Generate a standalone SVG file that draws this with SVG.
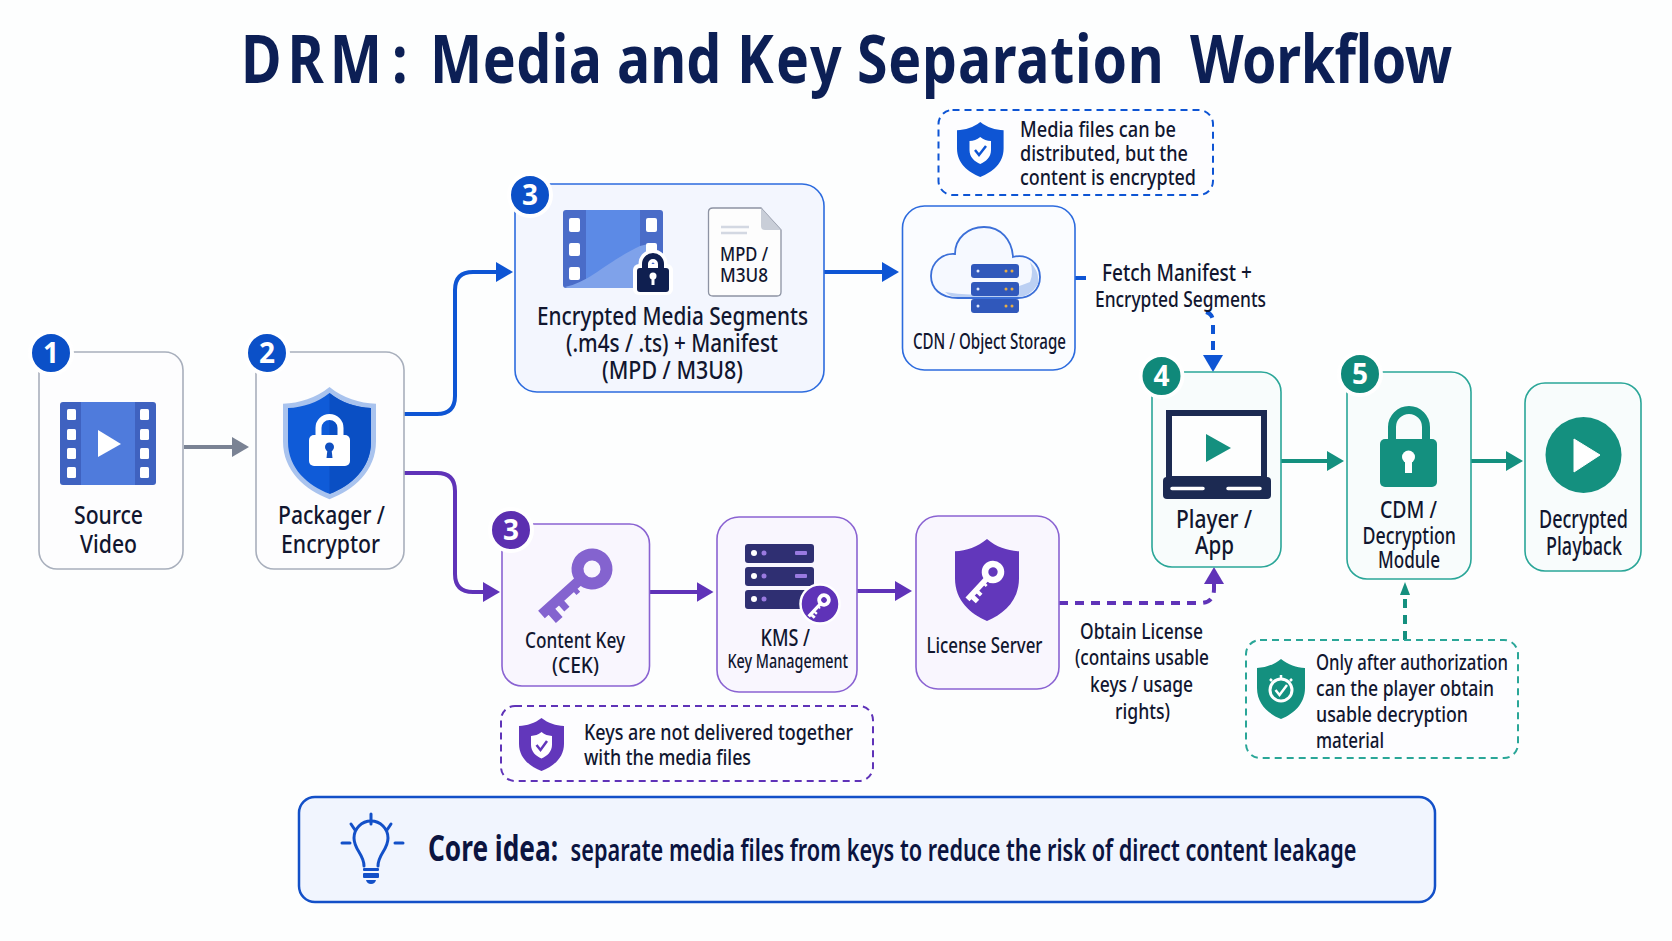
<svg xmlns="http://www.w3.org/2000/svg" xmlns:xlink="http://www.w3.org/1999/xlink" width="1672" height="941" viewBox="0 0 1672 941">
<style>
text{font-family:"Noto Sans","Liberation Sans",sans-serif;fill:#11162f;font-weight:500;font-size:25px}
.title{font-size:66px;font-weight:700;fill:#0c1f55}
.c{text-anchor:middle}
.b{font-size:28px;font-weight:700;fill:#fff;text-anchor:middle}
.s20{font-size:20px}.s21{font-size:21px}.s22{font-size:22px}.s23{font-size:23px}.s24{font-size:24px}
.core{font-size:36px;font-weight:700;fill:#0b1440}
.core2{font-size:30px;font-weight:600;fill:#0b1440}
.box{stroke-width:1.6}
.gray{fill:#fdfdfe;stroke:#a8afbc}
.blue{fill:#f3f6fe;stroke:#2c6bde}
.blue2{fill:#fafcff;stroke:#2c6bde}
.purple{fill:#f9f6fe;stroke:#8a63d2}
.teal{fill:#f8fcfc;stroke:#2aa698}
.note{fill:#fdfdff;stroke-width:2;stroke-dasharray:7 5}
.ring{stroke:#fff;stroke-width:4}
.line{fill:none;stroke-width:4}
.dash{stroke-dasharray:9 7}
</style>
<defs>
<marker id="hGray" markerUnits="userSpaceOnUse" viewBox="0 0 17 20" refX="2" refY="10" markerWidth="17" markerHeight="20" orient="auto"><path d="M0 0L17 10L0 20Z" fill="#7a8394"/></marker>
<marker id="hBlue" markerUnits="userSpaceOnUse" viewBox="0 0 17 20" refX="2" refY="10" markerWidth="17" markerHeight="20" orient="auto"><path d="M0 0L17 10L0 20Z" fill="#0e55d4"/></marker>
<marker id="hPurple" markerUnits="userSpaceOnUse" viewBox="0 0 17 20" refX="2" refY="10" markerWidth="17" markerHeight="20" orient="auto"><path d="M0 0L17 10L0 20Z" fill="#5f33b8"/></marker>
<marker id="hTeal" markerUnits="userSpaceOnUse" viewBox="0 0 17 20" refX="2" refY="10" markerWidth="17" markerHeight="20" orient="auto"><path d="M0 0L17 10L0 20Z" fill="#14907f"/></marker>
<marker id="hTealS" markerUnits="userSpaceOnUse" viewBox="0 0 13 10" refX="1" refY="5" markerWidth="13" markerHeight="10" orient="auto"><path d="M0 0L13 5L0 10Z" fill="#14907f"/></marker>
<path id="shield" d="M50 0C65 12 82 17 100 18V58C100 90 76 110 50 120C24 110 0 90 0 58V18C18 17 35 12 50 0Z"/>
<g id="key"><path fill-rule="evenodd" d="M0-20.500a20.500 20.500 0 1 1 0 41a20.500 20.500 0 1 1 0-41zM0-8.500a8.500 8.500 0 1 0 0 17a8.500 8.500 0 1 0 0-17z"/><path d="M-5 16h10v52h-10zM5 24h4v5h-4zM5 42h8v7h-8zM5 54h11v9h-11z"/></g>
</defs>
<rect width="1672" height="941" fill="#fdfefe"/>
<text class="title" transform="scale(.84 1)" y="83"><tspan x="286.900" letter-spacing="7">DRM</tspan><tspan x="466.700">:</tspan> <tspan x="511.900" letter-spacing=".5">Media</tspan> <tspan x="734.500">and</tspan> <tspan x="877.400" letter-spacing="2.500">Key</tspan> <tspan x="1020.200" letter-spacing=".9">Separation</tspan> <tspan x="1416.700" letter-spacing="-.5">Workflow</tspan></text>

<g id="connectors">
<path class="line" stroke="#7a8394" marker-end="url(#hGray)" d="M184 447H234"/>
<path class="line" stroke="#0e55d4" marker-end="url(#hBlue)" d="M404 414H437Q455 414 455 396V290Q455 272 473 272H498"/>
<path class="line" stroke="#5f33b8" marker-end="url(#hPurple)" d="M404 473H437Q455 473 455 491V574Q455 592 473 592H485"/>
<path class="line" stroke="#0e55d4" marker-end="url(#hBlue)" d="M824 272H884"/>
<path class="line" stroke="#5f33b8" marker-end="url(#hPurple)" d="M650 592H698.500"/>
<path class="line" stroke="#5f33b8" marker-end="url(#hPurple)" d="M857 591H897"/>
<path class="line" stroke="#14907f" marker-end="url(#hTeal)" d="M1281 461H1329"/>
<path class="line" stroke="#14907f" marker-end="url(#hTeal)" d="M1471 461H1508"/>
<path class="line" stroke="#0e55d4" d="M1075 278H1086"/>
<path class="line dash" stroke="#0e55d4" marker-end="url(#hBlue)" d="M1206 312Q1213 314 1213 322V357"/>
<path class="line dash" stroke="#5f33b8" marker-end="url(#hPurple)" d="M1059 603H1200Q1214 603 1214 589V582"/>
<path class="line dash" stroke="#14907f" stroke-width="3" marker-end="url(#hTealS)" d="M1405 640V594"/>
</g>

<g id="source-video">
<rect class="box gray" x="39" y="352" width="144" height="217" rx="18"/>
<rect x="60" y="402" width="96" height="83" rx="3" fill="#3f62c0"/>
<rect x="81" y="402" width="54" height="83" fill="#4f7bdc"/>
<g fill="#fff"><rect x="67" y="409" width="9" height="11" rx="1.500"/><rect x="67" y="429" width="9" height="11" rx="1.500"/><rect x="67" y="448" width="9" height="11" rx="1.500"/><rect x="67" y="467" width="9" height="11" rx="1.500"/><rect x="140" y="409" width="9" height="11" rx="1.500"/><rect x="140" y="429" width="9" height="11" rx="1.500"/><rect x="140" y="448" width="9" height="11" rx="1.500"/><rect x="140" y="467" width="9" height="11" rx="1.500"/><path d="M98 430L121 444L98 457Z"/></g>
<text x="74" y="524" textLength="69" lengthAdjust="spacingAndGlyphs">Source</text>
<text x="80" y="553" textLength="57" lengthAdjust="spacingAndGlyphs">Video</text>
<circle class="ring" cx="51" cy="353" r="21" fill="#0b50c8"/><text class="b" x="51" y="363">1</text>
</g>

<g id="packager">
<rect class="box gray" x="256" y="352" width="148" height="217" rx="18"/>
<use xlink:href="#shield" href="#shield" transform="translate(283 387) scale(.93 .935)" fill="#a9c3ee"/>
<use xlink:href="#shield" href="#shield" transform="translate(288 393) scale(.83 .84)" fill="#0f5bd8"/>
<path d="M329.500 393C342 403 356 407 371 408V442C371 468 351 486 329.500 494Z" fill="#0a4fc4"/>
<path d="M318.500 437V428a11 11 0 0 1 22 0V437" fill="none" stroke="#fff" stroke-width="6"/>
<rect x="309" y="435" width="41" height="31" rx="5" fill="#fff"/>
<circle cx="329.500" cy="447" r="4.500" fill="#0f4fc0"/><path d="M327.500 449h4l1 9h-6z" fill="#0f4fc0"/>
<text x="278" y="524" textLength="107" lengthAdjust="spacingAndGlyphs">Packager /</text>
<text x="281" y="553" textLength="99" lengthAdjust="spacingAndGlyphs">Encryptor</text>
<circle class="ring" cx="267" cy="353" r="21" fill="#0b50c8"/><text class="b" x="267" y="363">2</text>
</g>

<g id="encrypted-media">
<rect class="box blue" x="515" y="184" width="309" height="208" rx="22"/>
<rect x="563" y="210" width="100" height="78" rx="3" fill="#4a6cc8"/>
<rect x="586" y="210" width="54" height="78" fill="#5c8ae6"/>
<path d="M565 287C590 282 606 262 640 246L652 243V288H567Z" fill="#7fa2ea"/>
<g fill="#fff"><rect x="569" y="218" width="11" height="14" rx="2"/><rect x="569" y="243" width="11" height="13" rx="2"/><rect x="569" y="267" width="11" height="13" rx="2"/><rect x="646" y="218" width="11" height="14" rx="2"/><rect x="646" y="243" width="11" height="14" rx="2"/></g>
<path d="M645 270V264a8 8 0 0 1 16 0V270" fill="none" stroke="#fff" stroke-width="13"/>
<rect x="633" y="264" width="40" height="31" rx="6" fill="#fff"/>
<path d="M645 270V264a8 8 0 0 1 16 0V270" fill="none" stroke="#0f1f50" stroke-width="6"/>
<rect x="637" y="268" width="32" height="24" rx="3" fill="#0f1f50"/>
<circle cx="653" cy="276" r="3.500" fill="#fff"/><rect x="651.500" y="277" width="3" height="8" fill="#fff"/>
<path d="M713 208H761L781 230V292Q781 296 777 296H713Q708.500 296 708.500 292V212Q708.500 208 713 208Z" fill="#fdfdfd" stroke="#8d93a3" stroke-width="1.300"/>
<path d="M761 208L781 230H765Q761 230 761 226Z" fill="#c9ced8"/>
<path d="M721 227H749M721 233H747" stroke="#d3d8e2" stroke-width="2.500"/>
<text class="s20" x="720" y="261" textLength="48" lengthAdjust="spacingAndGlyphs">MPD /</text>
<text class="s20" x="720" y="282" textLength="48" lengthAdjust="spacingAndGlyphs">M3U8</text>
<text x="537" y="325" textLength="271" lengthAdjust="spacingAndGlyphs">Encrypted Media Segments</text>
<text x="566" y="352" textLength="212" lengthAdjust="spacingAndGlyphs">(.m4s / .ts) + Manifest</text>
<text x="602" y="379" textLength="141" lengthAdjust="spacingAndGlyphs">(MPD / M3U8)</text>
<circle class="ring" cx="530" cy="195" r="21" fill="#0b50c8"/><text class="b" x="530" y="205">3</text>
</g>

<g id="cdn">
<rect class="box blue2" x="902.500" y="206" width="172.500" height="164" rx="22"/>
<path d="M958 298C940 298 931 288 931 276C931 262 943 253 955 254C955 238 968 227 984 227C1001 227 1012 240 1013 257C1028 253 1040 264 1040 277C1040 290 1030 298 1018 298Z" fill="#f6f9ff" stroke="#3b6fd8" stroke-width="1.800"/>
<path d="M945 292Q985 300 1030 282Q1034 272 1030 262Q1040 272 1038 284Q1030 297 1018 297H958Q950 297 945 292Z" fill="#bcd0f3"/>
<g fill="#3058bb"><rect x="971" y="264" width="48" height="14" rx="3"/><rect x="971" y="282" width="48" height="14" rx="3"/><rect x="971" y="299" width="48" height="14" rx="3"/></g>
<g fill="#e8ad45"><circle cx="1006" cy="271" r="1.500"/><circle cx="1012" cy="271" r="1.500"/><circle cx="1006" cy="289" r="1.500"/><circle cx="1012" cy="289" r="1.500"/><circle cx="1006" cy="306" r="1.500"/><circle cx="1012" cy="306" r="1.500"/></g>
<g fill="#dfe8fb"><circle cx="978" cy="271" r="1.500"/><circle cx="978" cy="289" r="1.500"/><circle cx="978" cy="306" r="1.500"/></g>
<text class="s21" x="913" y="349" textLength="153" lengthAdjust="spacingAndGlyphs">CDN / Object Storage</text>
</g>

<g id="note-media">
<rect class="note" x="938.500" y="110" width="274.500" height="85" rx="14" stroke="#0e55d4"/>
<use xlink:href="#shield" href="#shield" transform="translate(957 122) scale(.466 .458)" fill="#0e55d4"/>
<use xlink:href="#shield" href="#shield" transform="translate(969.500 137) scale(.215 .225)" fill="#fff"/>
<path d="M975 150L979 155L986 146" fill="none" stroke="#0e55d4" stroke-width="2.500"/>
<text class="s22" x="1020" y="137" textLength="156" lengthAdjust="spacingAndGlyphs">Media files can be</text>
<text class="s22" x="1020" y="161" textLength="168" lengthAdjust="spacingAndGlyphs">distributed, but the</text>
<text class="s22" x="1020" y="185" textLength="176" lengthAdjust="spacingAndGlyphs">content is encrypted</text>
</g>

<g id="content-key">
<rect class="box purple" x="502" y="524" width="147.500" height="162" rx="20"/>
<use xlink:href="#key" href="#key" transform="translate(592 569) rotate(48)" fill="#8463cf"/>
<text class="s22" x="525" y="648" textLength="100" lengthAdjust="spacingAndGlyphs">Content Key</text>
<text class="s22" x="552" y="673" textLength="47" lengthAdjust="spacingAndGlyphs">(CEK)</text>
<circle class="ring" cx="511" cy="530" r="21" fill="#5b2fb0"/><text class="b" x="511" y="540">3</text>
</g>

<g id="kms">
<rect class="box purple" x="717" y="517" width="140" height="175" rx="22"/>
<g fill="#2f2f72"><rect x="745" y="544" width="69" height="19" rx="3"/><rect x="745" y="567" width="69" height="19" rx="3"/><rect x="745" y="590" width="69" height="19" rx="3"/></g>
<g fill="#fff"><circle cx="754" cy="553" r="3"/><circle cx="754" cy="576" r="3"/><circle cx="754" cy="599" r="3"/></g>
<g fill="#9a7ae0"><circle cx="764" cy="553" r="2.500"/><circle cx="764" cy="576" r="2.500"/><circle cx="764" cy="599" r="2.500"/><rect x="795" y="551" width="12" height="4" rx="1"/><rect x="795" y="574" width="12" height="4" rx="1"/></g>
<circle cx="820" cy="604" r="19.500" fill="#5f33b8" stroke="#fff" stroke-width="2.500"/>
<use xlink:href="#key" href="#key" transform="translate(824 600) rotate(43) scale(.33)" fill="#fff"/>
<text class="s24" x="760.500" y="646" textLength="49.500" lengthAdjust="spacingAndGlyphs">KMS /</text>
<text class="s20" x="727.500" y="668" textLength="120.500" lengthAdjust="spacingAndGlyphs">Key Management</text>
</g>

<g id="license-server">
<rect class="box purple" x="916" y="516" width="143" height="173" rx="22"/>
<use xlink:href="#shield" href="#shield" transform="translate(955 539) scale(.64 .683)" fill="#6237bb"/>
<use xlink:href="#key" href="#key" transform="translate(993 572) rotate(43) scale(.55)" fill="#fff"/>
<text class="s22" x="926.500" y="653" textLength="116" lengthAdjust="spacingAndGlyphs">License Server</text>
</g>

<g id="note-keys">
<rect class="note" x="501" y="706" width="372" height="75" rx="14" stroke="#5f33b8"/>
<use xlink:href="#shield" href="#shield" transform="translate(519 718) scale(.45 .442)" fill="#6237bb"/>
<use xlink:href="#shield" href="#shield" transform="translate(531 732) scale(.21 .22)" fill="#fff"/>
<path d="M536.500 745L540.500 750L547 741" fill="none" stroke="#6237bb" stroke-width="2.500"/>
<text class="s22" x="584" y="740" textLength="269" lengthAdjust="spacingAndGlyphs">Keys are not delivered together</text>
<text class="s22" x="584" y="765" textLength="167" lengthAdjust="spacingAndGlyphs">with the media files</text>
</g>

<g id="player">
<rect class="box teal" x="1152" y="372" width="129" height="195" rx="20"/>
<rect x="1169" y="413" width="95" height="66" fill="#fdfefe" stroke="#1c2a52" stroke-width="6"/>
<rect x="1163" y="477" width="108" height="22" rx="4" fill="#1c2a52"/>
<path d="M1172 488.500H1203M1228 488.500H1260" stroke="#fff" stroke-width="3.500" stroke-linecap="round"/>
<path d="M1206 434L1231 448L1206 462Z" fill="#14907f"/>
<text x="1176" y="528" textLength="76" lengthAdjust="spacingAndGlyphs">Player /</text>
<text x="1195" y="554" textLength="39" lengthAdjust="spacingAndGlyphs">App</text>
<circle class="ring" cx="1161.500" cy="376" r="21" fill="#10897a"/><text class="b" x="1161.500" y="386">4</text>
</g>

<g id="cdm">
<rect class="box teal" x="1347" y="372" width="124" height="207" rx="20"/>
<path d="M1392 442V427a17 17 0 0 1 34 0V442" fill="none" stroke="#14907f" stroke-width="8"/>
<rect x="1380" y="439" width="57" height="48" rx="5" fill="#14907f"/>
<circle cx="1408.500" cy="457" r="6.500" fill="#fff"/><rect x="1405" y="459" width="7" height="14" fill="#fff"/>
<text class="s23" x="1380" y="518" textLength="57" lengthAdjust="spacingAndGlyphs">CDM /</text>
<text class="s23" x="1362.500" y="544" textLength="93.500" lengthAdjust="spacingAndGlyphs">Decryption</text>
<text class="s23" x="1378" y="568" textLength="62" lengthAdjust="spacingAndGlyphs">Module</text>
<circle class="ring" cx="1360" cy="374" r="21" fill="#10897a"/><text class="b" x="1360" y="384">5</text>
</g>

<g id="playback">
<rect class="box teal" x="1525" y="383" width="116" height="188" rx="20"/>
<circle cx="1583.500" cy="455" r="38" fill="#14907f"/>
<path d="M1574 439L1600 455L1574 472Z" fill="#fff" stroke="#fff" stroke-width="1" stroke-linejoin="round"/>
<text x="1539" y="528" textLength="89" lengthAdjust="spacingAndGlyphs">Decrypted</text>
<text x="1546" y="555" textLength="76" lengthAdjust="spacingAndGlyphs">Playback</text>
</g>

<g id="note-auth">
<rect class="note" x="1246" y="640" width="272" height="118" rx="14" stroke="#2aa698"/>
<use xlink:href="#shield" href="#shield" transform="translate(1257 659) scale(.48 .5)" fill="#14907f"/>
<circle cx="1281" cy="690" r="11" fill="none" stroke="#fff" stroke-width="3"/>
<path d="M1281 679V675M1272 681L1270 679M1290 681L1292 679" stroke="#fff" stroke-width="2.500"/>
<path d="M1275.500 690L1279.500 695L1287 685" fill="none" stroke="#fff" stroke-width="2.500"/>
<text class="s22" x="1316" y="670" textLength="192" lengthAdjust="spacingAndGlyphs">Only after authorization</text>
<text class="s22" x="1316" y="696" textLength="178" lengthAdjust="spacingAndGlyphs">can the player obtain</text>
<text class="s22" x="1316" y="722" textLength="152" lengthAdjust="spacingAndGlyphs">usable decryption</text>
<text class="s22" x="1316" y="748" textLength="68" lengthAdjust="spacingAndGlyphs">material</text>
</g>

<g id="labels">
<text class="s23" x="1102" y="281" textLength="150" lengthAdjust="spacingAndGlyphs">Fetch Manifest +</text>
<text class="s22" x="1095" y="307" textLength="171" lengthAdjust="spacingAndGlyphs">Encrypted Segments</text>
<text class="s21" x="1080" y="639" textLength="123" lengthAdjust="spacingAndGlyphs">Obtain License</text>
<text class="s21" x="1075" y="665" textLength="134" lengthAdjust="spacingAndGlyphs">(contains usable</text>
<text class="s21" x="1090" y="692" textLength="103" lengthAdjust="spacingAndGlyphs">keys / usage</text>
<text class="s21" x="1115" y="719" textLength="55" lengthAdjust="spacingAndGlyphs">rights)</text>
</g>

<g id="core-idea">
<rect x="299" y="797" width="1136" height="105" rx="16" fill="#f1f5fe" stroke="#1350c8" stroke-width="2.500"/>
<g fill="none" stroke="#1350c8" stroke-width="3" stroke-linecap="round">
<path d="M364 866C364 854 354 850 354 838a17 17 0 0 1 34 0C388 850 378 854 378 866"/>
<path d="M371 814V824M351 824L355 830M391 824L387 830M342 843H350M395 843H403"/>
</g>
<g fill="#1350c8"><rect x="363" y="868" width="16" height="3" rx="1"/><rect x="363" y="873" width="16" height="5" rx="1"/><path d="M366 880H376Q375 884 371 884Q367 884 366 880Z"/></g>
<text class="core" x="428" y="861" textLength="130" lengthAdjust="spacingAndGlyphs">Core idea:</text>
<text class="core2" x="570.500" y="861" textLength="786" lengthAdjust="spacingAndGlyphs">separate media files from keys to reduce the risk of direct content leakage</text>
</g>
</svg>
